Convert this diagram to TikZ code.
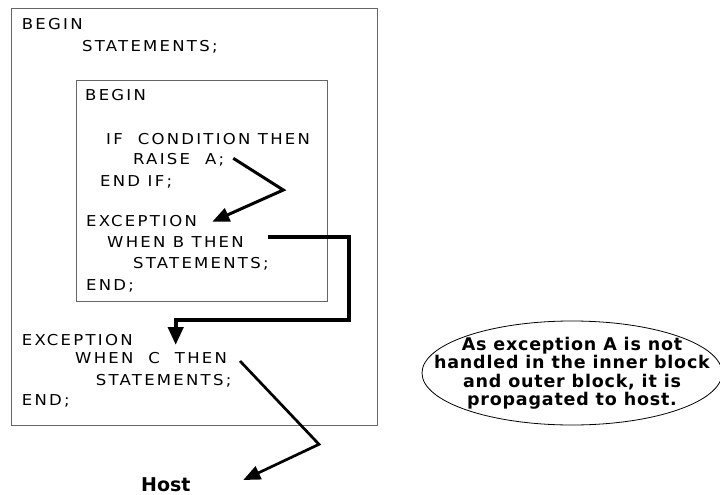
\documentclass[tikz,border=0pt]{standalone}
\usepackage{fontspec}
\setmainfont{DejaVu Sans}
\newfontfamily\codefont{DejaVu Sans}[FakeStretch=1.1,LetterSpace=15]
\newfontfamily\notefont{DejaVu Sans}[LetterSpace=4.5]
\usetikzlibrary{shapes.geometric,arrows.meta}
\begin{document}
\begin{tikzpicture}[x=1pt,y=-1pt,
  code/.style={anchor=base west,inner sep=0pt,font=\codefont\fontsize{15}{18}\selectfont},
  block/.style={draw=black!60,line width=1.3pt,inner sep=0pt,anchor=north west},
  flow/.style={line width=3pt,-{Triangle[length=17pt,width=14pt]}},
  bigflow/.style={line width=4.3pt,-{Triangle[length=18pt,width=15pt]}},
  noteshape/.style={ellipse,draw=black,line width=0.8pt,inner sep=0pt},
  notetext/.style={inner sep=0pt,align=center,
    font=\notefont\bfseries\fontsize{17.5}{18.5}\selectfont},
]
\useasboundingbox (0,0) rectangle (720,495);
% blocks
\node[block,minimum width=366pt,minimum height=417pt] (outer) at (11,8) {};
\node[block,minimum width=251pt,minimum height=221pt] (inner) at (76,80) {};
% outer code
\node[code] (ob) at (21.7,29.3) {BEGIN};
\node[code] (os) at (82,51.7) {STATEMENTS;};
% inner code
\node[code] (ib) at (85,100.7) {BEGIN};
\node[code] (iif) at (106,144.3) {IF\ \ CONDITION THEN};
\node[code] (ira) at (133,164.3) {RAISE\ \ A;};
\node[code] (iend) at (100,186) {END IF;};
\node[code] (iex) at (86,226) {EXCEPTION};
\node[code] (iwb) at (107,247.5) {WHEN B THEN};
\node[code] (ist) at (133,268.3) {STATEMENTS;};
\node[code] (ie) at (86,290) {END;};
% outer handler
\node[code] (oex) at (21.7,345) {EXCEPTION};
\node[code] (owc) at (75,363.3) {WHEN\ \ C\ \ THEN};
\node[code] (ost) at (95.7,385) {STATEMENTS;};
\node[code] (oe) at (21.7,405) {END;};
% host
\node[anchor=base west,inner sep=0pt,font=\bfseries\fontsize{19}{23}\selectfont] (host) at (141,491) {Host};
% note
\node[noteshape,minimum width=300pt,minimum height=104pt] (noteshape) at (572,373) {};
\node[notetext] (note) at (noteshape.center)
  {As exception A is not\\handled in the inner block\\and outer block, it is\\propagated to host.};
% connectors
\coordinate (a1s) at (233.3,158.3);
\coordinate (a1c) at (283.3,190);
\coordinate (a1t) at (212.3,221.7);
\draw[flow] (a1s) -- (a1c) -- (a1t);
\coordinate (a2s) at (268,236.7);
\coordinate (a2c) at (349,236.7);
\coordinate (a2d) at (349,320);
\coordinate (a2e) at (175.7,320);
\coordinate (a2t) at (175.7,345);
\draw[bigflow] (a2s) -- (a2c) -- (a2d) -- (a2e) -- (a2t);
\coordinate (a3s) at (240,361);
\coordinate (a3c) at (319,444.3);
\coordinate (a3t) at (243.3,480);
\draw[flow,line width=2.7pt] (a3s) -- (a3c) -- (a3t);
\end{tikzpicture}
\end{document}
